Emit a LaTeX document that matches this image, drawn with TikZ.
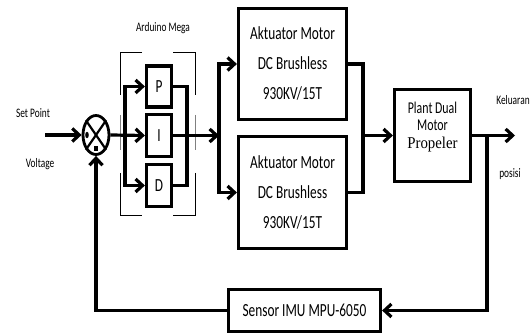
\documentclass[tikz,border=0pt]{standalone}
\usepackage{fontspec}
\usepackage{graphicx}
\setmainfont{Carlito}
\newfontfamily\seriffont{Liberation Serif}
\usetikzlibrary{arrows.meta,shapes.geometric}
\newcommand{\sempit}[1]{\scalebox{0.72}[1]{#1}}
\newcommand{\besar}{\fontsize{18.5}{30}\selectfont}
\newcommand{\kecil}{\fontsize{13}{15}\selectfont}

\begin{document}
\begin{tikzpicture}[x=1pt,y=-1pt,
  blok/.style={draw, line width=3.2pt, inner sep=0pt, font=\besar},
  garis/.style={line width=3.2pt},
  panah/.style={garis, -{Straight Barb[length=7pt,width=13pt]}},
  teks/.style={inner sep=0pt, font=\kecil}]
\useasboundingbox (0,0) rectangle (532,336);
% penjumlah
\node[draw, ellipse, line width=2.8pt, minimum width=26pt, minimum height=39pt, inner sep=0pt] (sum) at (96,135) {};
\draw[line width=2.2pt] (sum.north west) -- (sum.south east);
\draw[line width=2.2pt] (sum.north east) -- (sum.south west);
\fill (87,135) ellipse (1.8 and 3.2);
\fill (93.5,146.5) rectangle (98,151);
% blok PID
\node[blok, minimum width=25pt, minimum height=41pt] (p) at (159,86.5) {\sempit{P}};
\node[blok, minimum width=25pt, minimum height=42pt] (i) at (159,135.5) {\sempit{I}};
\node[blok, minimum width=25pt, minimum height=42pt] (d) at (159,185.5) {\sempit{D}};
% aktuator, plant, sensor
\node[blok, minimum width=108pt, minimum height=111pt] (akt1) at (292.5,64)
  {\sempit{\begin{tabular}{@{}c@{}}Aktuator Motor\\DC Brushless\\930KV/15T\end{tabular}}};
\node[blok, minimum width=108pt, minimum height=112pt] (akt2) at (292.5,192.5)
  {\sempit{\begin{tabular}{@{}c@{}}Aktuator Motor\\DC Brushless\\930KV/15T\end{tabular}}};
\node[blok, minimum width=76pt, minimum height=92pt] (plant) at (432.5,135.5) {};
\node[inner sep=0pt] (plantteks) at (432.5,127.5)
  {\sempit{\fontsize{16.5}{17.5}\selectfont\begin{tabular}{@{}c@{}}Plant Dual\\Motor\\\scalebox{1.25}[1]{\seriffont Propeler}\end{tabular}}};
\node[blok, minimum width=152pt, minimum height=42pt] (sensor) at (304.5,310.5) {\sempit{Sensor IMU MPU-6050}};
% teks
\node[teks] (setpoint) at (33,113) {\sempit{Set Point}};
\node[teks] (voltage) at (40,164) {\sempit{Voltage}};
\node[teks] (arduino) at (163,28) {\sempit{Arduino Mega}};
\node[teks] (keluaran) at (513,100) {\sempit{Keluaran}};
\node[teks] (posisi) at (510,174) {\sempit{posisi}};
% kurung Arduino
\draw[line width=0.9pt] (142,52) -- (120,52) -- (120,95);
\draw[gray, line width=0.7pt] (120,115) -- (120,150);
\draw[line width=0.9pt] (120,173) -- (120,215) -- (142,215);
\draw[line width=0.9pt] (173,52) -- (195,52) -- (195,95);
\draw[gray, line width=0.7pt] (195,115) -- (195,150);
\draw[line width=0.9pt] (195,173) -- (195,215) -- (173,215);
% sambungan
\coordinate (masuk) at (45,135);
\coordinate (cabang) at (125,135.5);
\coordinate (gabung) at (187,135.5);
\coordinate (bus) at (219,135.5);
\coordinate (gabung2) at (363,135.5);
\coordinate (keluar) at (515,135.5);
\coordinate (ambil) at (487,135.5);
\draw[panah] (masuk) -- (sum.west);
\draw[panah] (sum.east) -- (i.west);
\draw[panah] (cabang) |- (p.west);
\draw[panah] (cabang) |- (d.west);
\draw[garis] (p.east) -| (gabung) |- (d.east);
\draw[panah] (i.east) -- (bus);
\draw[panah] (bus) |- (akt1.west);
\draw[panah] (bus) |- (akt2.west);
\draw[garis] (akt1.east) -| (gabung2) |- (akt2.east);
\draw[panah] (gabung2) -- (plant.west);
\draw[panah] (plant.east) -- (keluar);
\draw[panah] (ambil) |- (sensor.east);
\draw[panah] (sensor.west) -| (sum.south);
\end{tikzpicture}
\end{document}
